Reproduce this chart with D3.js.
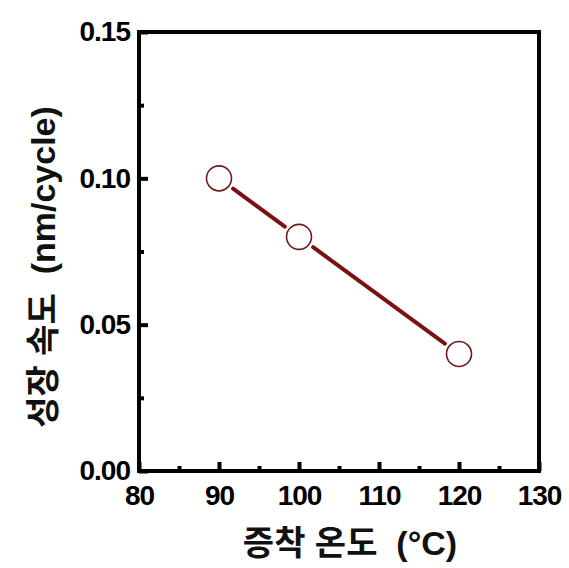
<!DOCTYPE html>
<html>
<head>
<meta charset="utf-8">
<script src="https://cdn.jsdelivr.net/npm/d3@7"></script>
<style>
  body { margin: 0; background: #fff; }
  .tick text { font-family: "Liberation Sans", Arial, sans-serif; font-weight: bold; }
</style>
</head>
<body>
<script>
// data
let temps = [90, 100, 120];
let rates = [0.10, 0.08, 0.04];
let xTicks = [80, 90, 100, 110, 120, 130];
let yTicks = [0.00, 0.05, 0.10, 0.15];

let width = 569, height = 568;
let plotLeft = 139, plotRight = 539, plotTop = 32, plotBottom = 471;

let xScale = d3.scaleLinear().domain([80, 130]).range([plotLeft, plotRight]);
let yScale = d3.scaleLinear().domain([0, 0.15]).range([plotBottom, plotTop]);

let svg = d3.select("body").append("svg")
    .attr("width", width).attr("height", height);

// frame
svg.append("rect")
    .attr("x", plotLeft).attr("y", plotTop)
    .attr("width", plotRight - plotLeft).attr("height", plotBottom - plotTop)
    .attr("fill", "none").attr("stroke", "#000").attr("stroke-width", 4);

// x axis, ticks pointing inward
let xAxis = svg.append("g")
    .attr("transform", "translate(0," + plotBottom + ")")
    .call(d3.axisBottom(xScale).tickValues(xTicks).tickSize(-9).tickPadding(14).tickFormat(d3.format("d")));
xAxis.select(".domain").remove();
xAxis.selectAll(".tick line").attr("stroke-width", 4);
xAxis.selectAll(".tick text").attr("font-size", 28).attr("fill", "#000")
    .attr("letter-spacing", -1).attr("dy", "0.72em");

let xMinor = svg.append("g")
    .attr("transform", "translate(0," + plotBottom + ")")
    .call(d3.axisBottom(xScale).tickValues(d3.range(85, 130, 10)).tickSize(-5).tickFormat(""));
xMinor.select(".domain").remove();
xMinor.selectAll(".tick line").attr("stroke-width", 4);

// y axis
let yAxis = svg.append("g")
    .attr("transform", "translate(" + plotLeft + ",0)")
    .call(d3.axisLeft(yScale).tickValues(yTicks).tickSize(-9).tickPadding(9).tickFormat(d3.format(".2f")));
yAxis.select(".domain").remove();
yAxis.selectAll(".tick line").attr("stroke-width", 4);
yAxis.selectAll(".tick text").attr("font-size", 28).attr("fill", "#000").attr("letter-spacing", -1);

let yMinor = svg.append("g")
    .attr("transform", "translate(" + plotLeft + ",0)")
    .call(d3.axisLeft(yScale).tickValues([0.025, 0.075, 0.125]).tickSize(-5).tickFormat(""));
yMinor.select(".domain").remove();
yMinor.selectAll(".tick line").attr("stroke-width", 4);

// line segments with gaps around the symbols
let r = 12.5, gap = 5;
let pts = temps.map(function (t, i) { return [xScale(t), yScale(rates[i])]; });
for (let i = 0; i < pts.length - 1; i++) {
    let a = pts[i], b = pts[i + 1];
    let dx = b[0] - a[0], dy = b[1] - a[1];
    let len = Math.sqrt(dx * dx + dy * dy);
    let off = r + gap;
    svg.append("line")
        .attr("x1", a[0] + dx / len * off).attr("y1", a[1] + dy / len * off)
        .attr("x2", b[0] - dx / len * off).attr("y2", b[1] - dy / len * off)
        .attr("stroke", "#7a1212").attr("stroke-width", 4).attr("stroke-linecap", "round");
}

svg.selectAll("circle.pt")
    .data(temps).enter()
    .append("circle")
    .attr("class", "pt")
    .attr("cx", function (d) { return xScale(d); })
    .attr("cy", function (d, i) { return yScale(rates[i]); })
    .attr("r", r)
    .attr("fill", "#fff")
    .attr("stroke", "#6e1a1a")
    .attr("stroke-width", 1.6);

// axis titles
svg.append("text")
    .attr("x", 350).attr("y", 555)
    .attr("text-anchor", "middle")
    .attr("font-family", "'Liberation Sans', 'Noto Sans CJK KR', sans-serif")
    .attr("font-weight", "bold")
    .attr("font-size", 34)
    .attr("fill", "#111")
    .style("white-space", "pre")
    .text("증착 온도  (°C)");

svg.append("text")
    .attr("transform", "translate(55,267) rotate(-90)")
    .attr("text-anchor", "middle")
    .attr("font-family", "'Liberation Sans', 'Noto Sans CJK KR', sans-serif")
    .attr("font-weight", "bold")
    .attr("font-size", 34)
    .attr("fill", "#111")
    .style("white-space", "pre")
    .text("성장 속도  (nm/cycle)");
</script>
</body>
</html>
